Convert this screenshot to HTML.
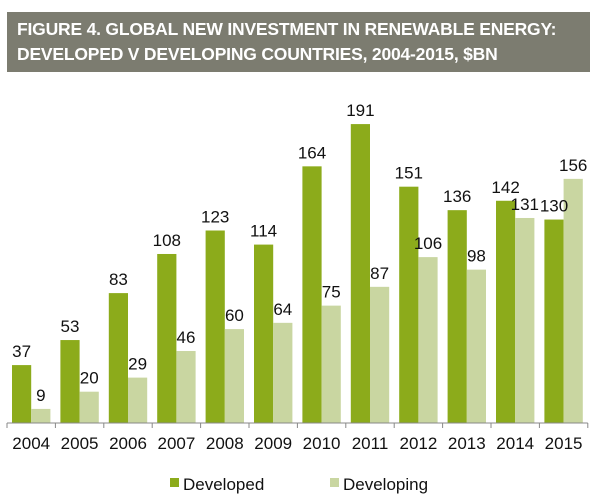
<!DOCTYPE html>
<html><head><meta charset="utf-8"><style>
body{margin:0;background:#fff;width:601px;height:502px;overflow:hidden;font-family:"Liberation Sans",sans-serif}
#hdr{position:absolute;left:7px;top:12px;width:583px;height:60px;background:#7c7c70;color:#fff;font-weight:bold;font-size:17.5px;line-height:25px;padding:5px 0 0 10px;box-sizing:border-box;letter-spacing:-0.2px}
svg{position:absolute;left:0;top:0}
</style></head><body>
<div id="hdr">FIGURE 4. GLOBAL NEW INVESTMENT IN RENEWABLE ENERGY:<br>DEVELOPED V DEVELOPING COUNTRIES, 2004-2015, $BN</div>
<svg id="c" width="601" height="502"></svg>
<script>
const years=["2004","2005","2006","2007","2008","2009","2010","2011","2012","2013","2014","2015"];
const developed=[37,53,83,108,123,114,164,191,151,136,142,130];
const developing=[9,20,29,46,60,64,75,87,106,98,131,156];
const svg=document.getElementById('c');
const NS='http://www.w3.org/2000/svg';
const x0=7,step=48.4,base=423,k=1.565;
const xs=i=>x0+i*step, ys=v=>base-v*k;
function mk(t,a){const e=document.createElementNS(NS,t);for(const n in a)e.setAttribute(n,a[n]);svg.appendChild(e);return e;}
years.forEach((y,i)=>{
  const cx=xs(i);
  let r=mk('rect',{x:cx+5,y:ys(developed[i]),width:19.2,height:developed[i]*k,fill:'#8cab1b'});
  
  
  r=mk('rect',{x:cx+24.2,y:ys(developing[i]),width:19.2,height:developing[i]*k,fill:'#c9d6a1'});
  
  
  let t=mk('text',{x:cx+14.6,y:ys(developed[i])-8,'text-anchor':'middle','font-size':17,fill:'#111'});
  t.textContent=developed[i];
  
  
  t=mk('text',{x:cx+33.8,y:ys(developing[i])-8,'text-anchor':'middle','font-size':17,fill:'#111'});
  t.textContent=developing[i];
  
  
  t=mk('text',{x:cx+24.2,y:449,'text-anchor':'middle','font-size':17,fill:'#111'});
  t.textContent=y;
  
  
});
for(let i=0;i<=12;i++){mk('line',{x1:xs(i),x2:xs(i),y1:base,y2:base+5,stroke:'#888','stroke-width':1});}
const ax=mk('line',{x1:x0,x2:xs(12),y1:base,y2:base,stroke:'#888','stroke-width':1});


let l=mk('rect',{x:170,y:478,width:9,height:9,fill:'#8cab1b'});


l=mk('text',{x:183,y:490,'font-size':17,fill:'#111'});l.textContent='Developed';


l=mk('rect',{x:330,y:478,width:9,height:9,fill:'#c9d6a1'});


l=mk('text',{x:343,y:490,'font-size':17,fill:'#111'});l.textContent='Developing';


</script>
</body></html>
